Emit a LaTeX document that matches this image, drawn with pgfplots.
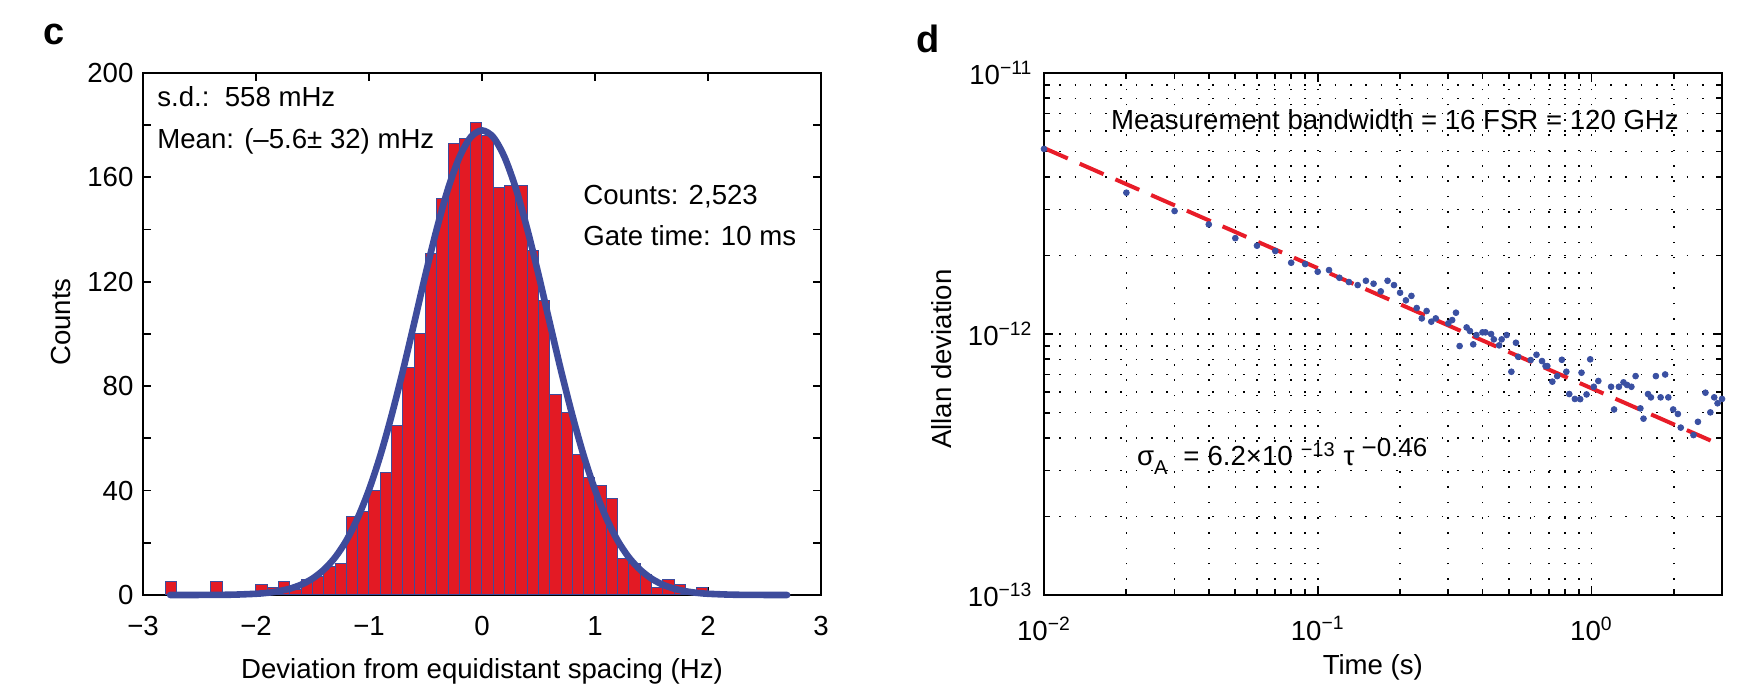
\documentclass[border=0pt]{standalone}
\usepackage{pgfplots}
\pgfplotsset{compat=1.18}
\usepackage{fontspec}
\setmainfont{Liberation Sans}
\definecolor{barred}{RGB}{227,26,36}
\definecolor{curveblue}{RGB}{62,76,156}
\definecolor{dotblue}{RGB}{58,80,162}
\definecolor{fitred}{RGB}{232,28,40}
\pgfplotstableread{
x y
-2.75 5
-2.65 1
-2.55 1
-2.45 1
-2.35 5
-2.25 1
-2.15 1
-2.05 1
-1.95 4
-1.85 3
-1.75 5
-1.65 2
-1.55 6
-1.45 7
-1.35 11
-1.25 12
-1.15 30
-1.05 32
-0.95 40
-0.85 47
-0.75 65
-0.65 87
-0.55 100
-0.45 131
-0.35 152
-0.25 173
-0.15 175
-0.05 181
0.05 176
0.15 156
0.25 157
0.35 157
0.45 132
0.55 113
0.65 77
0.75 70
0.85 54
0.95 45
1.05 42
1.15 37
1.25 14
1.35 12
1.45 8
1.55 3
1.65 6
1.75 4
1.85 1
1.95 3
2.05 1
2.15 1
2.25 1
2.35 1
2.55 1
2.65 1
}\histtable
\pgfplotstableread{
x y
-2.76 0.0
-2.4 0.03
-2.2 0.13
-2.0 0.47
-1.9 0.83
-1.8 1.44
-1.7 2.43
-1.6 3.96
-1.5 6.28
-1.4 9.67
-1.3 14.4
-1.2 20.9
-1.1 29.5
-1.0 40.3
-0.9 53.4
-0.8 68.8
-0.7 85.9
-0.6 104.2
-0.5 122.8
-0.4 140.3
-0.3 155.7
-0.2 167.7
-0.1 175.4
0.0 178.0
0.1 175.4
0.2 167.7
0.3 155.7
0.4 140.3
0.5 122.8
0.6 104.2
0.7 85.9
0.8 68.8
0.9 53.4
1.0 40.3
1.1 29.5
1.2 20.9
1.3 14.4
1.4 9.67
1.5 6.28
1.6 3.96
1.7 2.43
1.8 1.44
1.9 0.83
2.0 0.47
2.2 0.13
2.4 0.03
2.70 0.0
}\fittable
\pgfplotstableread{
t s
0.01 5.12e-12
0.02 3.48e-12
0.03 2.96e-12
0.04 2.63e-12
0.05 2.33e-12
0.06 2.18e-12
0.07 2.08e-12
0.08 1.876e-12
0.09 1.854e-12
0.10 1.733e-12
0.11 1.758e-12
0.12 1.643e-12
0.13 1.582e-12
0.14 1.54e-12
0.15 1.60e-12
0.16 1.559e-12
0.17 1.457e-12
0.18 1.60e-12
0.19 1.54e-12
0.20 1.44e-12
0.21 1.346e-12
0.22 1.40e-12
0.23 1.258e-12
0.24 1.148e-12
0.25 1.225e-12
0.26 1.115e-12
0.27 1.148e-12
0.30 1.099e-12
0.31 1.131e-12
0.32 1.207e-12
0.33 8.995e-13
0.35 1.06e-12
0.36 1.027e-12
0.37 9.13e-13
0.38 9.91e-13
0.40 1.015e-12
0.41 1.015e-12
0.43 1.0e-12
0.44 9.54e-13
0.46 9.05e-13
0.47 9.54e-13
0.49 9.91e-13
0.51 7.17e-13
0.53 9.26e-13
0.54 8.18e-13
0.60 7.95e-13
0.63 8.33e-13
0.66 7.88e-13
0.68 7.54e-13
0.69 7.54e-13
0.72 6.57e-13
0.75 6.90e-13
0.78 7.97e-13
0.81 7.17e-13
0.83 5.89e-13
0.87 5.64e-13
0.91 5.63e-13
0.92 7.11e-13
0.96 5.87e-13
0.99 8.0e-13
1.02 6.28e-13
1.06 6.61e-13
1.18 6.28e-13
1.21 5.14e-13
1.26 6.28e-13
1.31 6.53e-13
1.35 6.38e-13
1.40 6.28e-13
1.45 6.90e-13
1.51 5.19e-13
1.55 4.74e-13
1.61 5.89e-13
1.65 5.72e-13
1.72 6.90e-13
1.79 5.72e-13
1.86 7.0e-13
1.91 5.72e-13
1.99 5.14e-13
2.07 4.94e-13
2.12 4.38e-13
2.36 4.10e-13
2.45 4.61e-13
2.61 5.96e-13
2.72 5.01e-13
2.81 5.72e-13
2.89 5.43e-13
3.0 5.64e-13
}\allantable
\begin{document}%
\fontsize{13.8}{16}\selectfont%
\begin{tikzpicture}
\path[use as bounding box] (0,0) rectangle (876.5pt,347.5pt);
\node[font=\fontsize{19}{22}\selectfont\bfseries] at (27pt,330.5pt) {c};
\node[font=\fontsize{19}{22}\selectfont\bfseries] at (464pt,328pt) {d};
\begin{axis}[
  at={(71.5pt,50pt)}, anchor=south west,
  width=339pt, height=261pt, scale only axis, clip=false,
  xmin=-3, xmax=3, ymin=0, ymax=200,
  xtick={-3,...,3}, xticklabels={−3,−2,−1,0,1,2,3},
  ytick={0,40,...,200}, yticklabels={0,40,80,120,160,200},
  minor ytick={20,60,...,180},
  tick align=inside, tick pos=both,
  major tick length=4pt, minor tick length=4pt,
  axis line style={line width=0.9pt},
  tick style={black, line width=0.9pt},
  xticklabel style={yshift=-6pt},
  xlabel={Deviation from equidistant spacing (Hz)},
  ylabel={Counts},
  xlabel style={at={(rel axis cs:0.5,-0.146)}, anchor=center},
  ylabel style={at={(rel axis cs:-0.121,0.523)}, anchor=center},
]
\addplot[ybar, bar width=0.1, fill=barred, draw=curveblue, line width=0.5pt] table[x=x,y=y] {\histtable};
\addplot[curveblue, line width=3.3pt, smooth, line cap=round, line join=round] table[x=x,y=y] {\fittable};
\node[anchor=base west, inner sep=0pt] at (rel axis cs:0.0206,0.935) {s.d.:\ \ 558 mHz};
\node[anchor=base west, inner sep=0pt] at (rel axis cs:0.0206,0.856) {Mean: (–5.6± 32) mHz};
\node[anchor=base west, inner sep=0pt] at (rel axis cs:0.649,0.749) {Counts: 2,523};
\node[anchor=base west, inner sep=0pt] at (rel axis cs:0.649,0.6686) {Gate time: 10 ms};
\end{axis}
\begin{axis}[
  at={(522pt,50pt)}, anchor=south west,
  width=339pt, height=261pt, scale only axis, clip=false,
  xmode=log, ymode=log,
  xmin=0.01, xmax=3, ymin=1e-13, ymax=1e-11,
  xtick={0.01,0.1,1},
  xticklabels={10\textsuperscript{−2},10\textsuperscript{−1},10\textsuperscript{0}},
  ytick={1e-13,1e-12,1e-11},
  yticklabels={10\textsuperscript{−13},10\textsuperscript{−12},10\textsuperscript{−11}},
  minor xtick={0.02,0.03,0.04,0.05,0.06,0.07,0.08,0.09,0.2,0.3,0.4,0.5,0.6,0.7,0.8,0.9,2,3},
  minor ytick={2e-13,3e-13,4e-13,5e-13,6e-13,7e-13,8e-13,9e-13,2e-12,3e-12,4e-12,5e-12,6e-12,7e-12,8e-12,9e-12},
  grid=both,
  major grid style={black, line width=0.8pt, dash pattern=on 0.8pt off 6.85pt},
  minor grid style={black, line width=0.8pt, dash pattern=on 0.8pt off 6.85pt},
  tick align=inside, tick pos=both,
  major tick length=4.5pt, minor tick length=3pt,
  axis line style={line width=0.9pt},
  tick style={black, line width=0.9pt},
  xticklabel style={yshift=-6pt},
  yticklabel style={xshift=-1pt},
  xlabel={Time (s)},
  ylabel={Allan deviation},
  xlabel style={at={(rel axis cs:0.485,-0.139)}, anchor=center},
  ylabel style={at={(rel axis cs:-0.1504,0.452)}, anchor=center},
]
\addplot[only marks, mark=*, mark size=1.45pt, color=dotblue] table[x=t,y=s] {\allantable};
\addplot[fitred, line width=2pt, dash pattern=on 13pt off 6.5pt] coordinates {(0.01,5.16e-12) (3,3.74e-13)};
\node[anchor=base] at (rel axis cs:0.5177,0.891) {Measurement bandwidth = 16 FSR = 120 GHz};
\node[anchor=base west, inner sep=0pt] at (rel axis cs:0.1367,0.249) {σ\raisebox{-4.5pt}{\fontsize{10}{12}\selectfont A}\hspace{8pt}=\hspace{4pt}6.2×10\hspace{4pt}\raisebox{4.25pt}{\fontsize{10}{12}\selectfont −13}\hspace{4.5pt}τ\hspace{3.5pt}\raisebox{4.25pt}{\fontsize{13}{15}\selectfont −0.46}};
\end{axis}
\end{tikzpicture}%
\end{document}
